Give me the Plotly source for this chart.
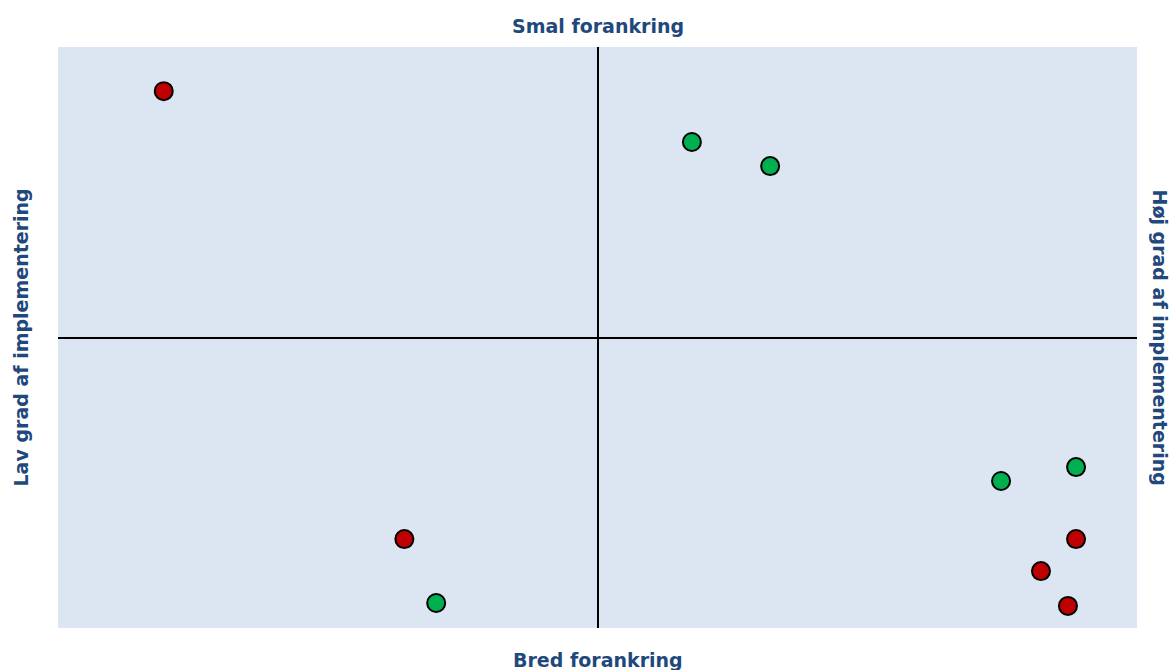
import plotly.graph_objects as go

red_x = [-8.04, 8.87, 8.22, 8.72, -3.58]
red_y = [8.48, -6.94, -8.04, -9.24, -6.94]
green_x = [1.75, 3.20, 7.48, 8.87, -2.99]
green_y = [6.73, 5.90, -4.94, -4.46, -9.14]

title_top = "Smal forankring"
title_bottom = "Bred forankring"
title_left = "Lav grad af implementering"
title_right = "Høj grad af implementering"

txt_color = "#1F497D"
font_fam = "DejaVu Sans, Verdana, sans-serif"

fig = go.Figure()
fig.add_trace(go.Scatter(x=red_x, y=red_y, mode="markers",
                         marker=dict(size=18, color="#C00000", line=dict(color="black", width=2)),
                         showlegend=False, hoverinfo="skip"))
fig.add_trace(go.Scatter(x=green_x, y=green_y, mode="markers",
                         marker=dict(size=18, color="#00B050", line=dict(color="black", width=2)),
                         showlegend=False, hoverinfo="skip"))

axis_common = dict(showgrid=False, showticklabels=False, ticks="", zeroline=True,
                   zerolinecolor="black", zerolinewidth=1.5, showline=False, fixedrange=True)
fig.update_xaxes(range=[-10, 10], **axis_common)
fig.update_yaxes(range=[-10, 10], **axis_common)

anns = [
    dict(text=f"<b>{title_top}</b>", x=0.5, y=1, yshift=21, textangle=0),
    dict(text=f"<b>{title_bottom}</b>", x=0.5, y=0, yshift=-32, textangle=0),
    dict(text=f"<b>{title_left}</b>", x=0, y=0.5, xshift=-38, textangle=-90),
    dict(text=f"<b>{title_right}</b>", x=1, y=0.5, xshift=23, textangle=90),
]
for a in anns:
    fig.add_annotation(xref="paper", yref="paper", showarrow=False,
                       xanchor="center", yanchor="middle",
                       font=dict(family=font_fam, size=19, color=txt_color), **a)

fig.update_layout(
    width=1175, height=670,
    margin=dict(l=58, r=38, t=47, b=42),
    plot_bgcolor="#DCE6F2", paper_bgcolor="white",
)
fig.write_html("out.html")
